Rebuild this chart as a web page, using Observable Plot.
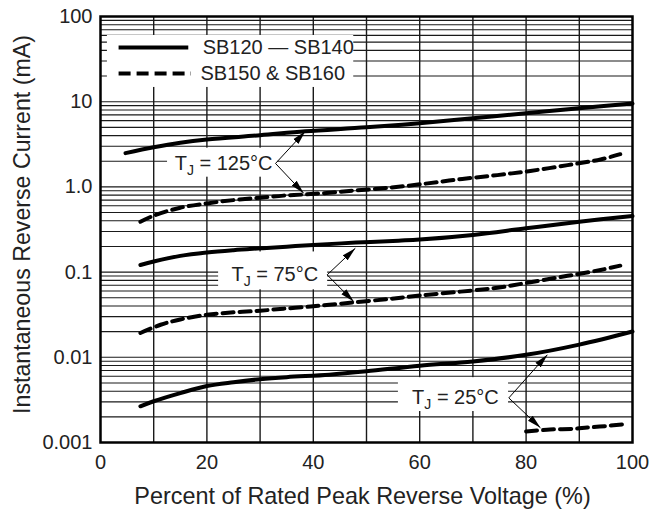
<!DOCTYPE html>
<html><head><meta charset="utf-8">
<script src="https://cdn.jsdelivr.net/npm/d3@7"></script>
<script src="https://cdn.jsdelivr.net/npm/@observablehq/plot@0.6"></script>
<style>body{margin:0;background:#fff;} #chart svg{display:block}</style>
</head><body><div id="chart"></div>
<script>
// ---- tick labels / grid ----
const xTicks = [0, 20, 40, 60, 80, 100];
const xGridLines = [10, 20, 30, 40, 50, 60, 70, 80, 90];
const yTicks = [0.001, 0.01, 0.1, 1, 10, 100];
const yTickLabels = ["0.001", "0.01", "0.1", "1.0", "10", "100"];
const deviceGroups = ["SB120 — SB140", "SB150 & SB160"];
const tjLabels = ["TJ = 125°C", "TJ = 75°C", "TJ = 25°C"];

// ---- series (percent of rated VR, current mA) ----
const pct_SB120_125 = [4.7, 10, 15, 20, 30, 38.5, 50, 60, 70, 80, 90, 100];
const mA_SB120_125  = [2.49, 2.92, 3.3, 3.6, 4.04, 4.5, 5.0, 5.6, 6.4, 7.3, 8.4, 9.5];
const pct_SB150_125 = [7.5, 10, 15, 20, 25, 30, 34.4, 38.5, 43, 47.5, 54.5, 61.5, 68, 74.6, 80.8, 87.8, 94, 97.7];
const mA_SB150_125  = [0.39, 0.46, 0.57, 0.64, 0.70, 0.745, 0.79, 0.817, 0.853, 0.905, 0.98, 1.10, 1.24, 1.375, 1.54, 1.80, 2.10, 2.42];
const pct_SB120_75  = [7.5, 10, 15, 20, 25, 30, 35, 40, 48, 56, 60, 70, 80, 90, 100];
const mA_SB120_75   = [0.121, 0.133, 0.155, 0.170, 0.181, 0.19, 0.199, 0.208, 0.222, 0.234, 0.241, 0.273, 0.327, 0.39, 0.455];
const pct_SB150_75  = [7.5, 11.3, 15, 20, 25, 30, 34.4, 39.5, 43, 47.5, 54, 60, 67.7, 74.6, 80.8, 87.8, 94, 97.7];
const mA_SB150_75   = [0.0193, 0.0241, 0.0278, 0.0316, 0.0337, 0.0352, 0.0372, 0.0394, 0.0413, 0.044, 0.0482, 0.053, 0.059, 0.0655, 0.0760, 0.0904, 0.106, 0.119];
const pct_SB120_25  = [7.5, 10, 15, 20, 25, 30, 35, 43, 50, 60, 70, 80, 90, 100];
const mA_SB120_25   = [0.00266, 0.00305, 0.0038, 0.0046, 0.0051, 0.00553, 0.00585, 0.00625, 0.00684, 0.00798, 0.00895, 0.0107, 0.0141, 0.0201];
const pct_SB150_25  = [80, 84.5, 89, 91.5, 95, 98.5];
const mA_SB150_25   = [0.00135, 0.00142, 0.00145, 0.0015, 0.00156, 0.00164];

// ---- annotation anchors (data units) ----
const annVertexPct = [32.9, 42.6, 76.75];
const annVertexMA  = [1.885, 0.0927, 0.003337];
const annSolidPct  = [38.5, 47.9, 84.0];
const annSolidMA   = [4.5, 0.1905, 0.01072];
const annDashPct   = [38.2, 47.6, 82.7];
const annDashMA    = [0.84, 0.0451, 0.001486];
const annBoxPct    = [[12.6, 33.3], [22.2, 42.7], [56.0, 76.7]];
const annBoxMA     = [[1.30, 2.85], [0.0619, 0.1724], [0.00231, 0.00577]];
const annDx        = [-3, -9, -10];

const curveDefs = [
  {dev: 0, pct: pct_SB120_125, mA: mA_SB120_125},
  {dev: 1, pct: pct_SB150_125, mA: mA_SB150_125},
  {dev: 0, pct: pct_SB120_75,  mA: mA_SB120_75},
  {dev: 1, pct: pct_SB150_75,  mA: mA_SB150_75},
  {dev: 0, pct: pct_SB120_25,  mA: mA_SB120_25},
  {dev: 1, pct: pct_SB150_25,  mA: mA_SB150_25}
];
const rows = curveDefs.flatMap((c, i) => c.pct.map((p, j) => ({curve: i, device: deviceGroups[c.dev], pct: p, mA: c.mA[j]})));
const solidRows = rows.filter(d => d.device === deviceGroups[0]);
const dashRows = rows.filter(d => d.device === deviceGroups[1]);

const ann = tjLabels.map((t, i) => ({
  label: t, vx: annVertexPct[i], vy: annVertexMA[i],
  sx: annSolidPct[i], sy: annSolidMA[i], dx2: annDashPct[i], dy2: annDashMA[i],
  bx1: annBoxPct[i][0], bx2: annBoxPct[i][1], by1: annBoxMA[i][0], by2: annBoxMA[i][1]
}));
const arrows = ann.flatMap(a => [{x1: a.vx, y1: a.vy, x2: a.sx, y2: a.sy}, {x1: a.vx, y1: a.vy, x2: a.dx2, y2: a.dy2}]);

// minor log grid
const yGrid = [];
for (let e = -3; e < 2; e++) for (let m = 1; m <= 9; m++) yGrid.push(m * Math.pow(10, e));

const legendSolid = [{label: deviceGroups[0], x1: 3.4, x2: 16.5, y: 43.3, tx: 19.2}];
const legendDash  = [{label: deviceGroups[1], x1: 3.4, x2: 17.0, y: 21.5, tx: 18.8}];

const plot = Plot.plot({
  width: 651, height: 510,
  marginLeft: 100, marginRight: 19, marginTop: 16, marginBottom: 68,
  style: {fontFamily: "'Liberation Sans', Arial, Helvetica, sans-serif", fontSize: "20px", color: "#222", background: "#fff"},
  x: {domain: [0, 100]},
  y: {type: "log", domain: [0.001, 100]},
  marks: [
    Plot.ruleY(yGrid, {stroke: "#1a1a1a", strokeWidth: 1.1}),
    Plot.ruleX(xGridLines, {stroke: "#1a1a1a", strokeWidth: 1.4}),
    // white boxes behind legend and labels
    Plot.rect([{x1: 1.3, x2: 47.6, y1: 14.7, y2: 59.9}], {x1: "x1", x2: "x2", y1: "y1", y2: "y2", fill: "white"}),
    Plot.rect(ann, {x1: "bx1", x2: "bx2", y1: "by1", y2: "by2", fill: "white"}),
    Plot.line(solidRows, {x: "pct", y: "mA", z: "curve", stroke: "black", strokeWidth: 4, curve: "catmull-rom"}),
    Plot.line(dashRows, {x: "pct", y: "mA", z: "curve", stroke: "black", strokeWidth: 4, strokeDasharray: "11,6", curve: "catmull-rom"}),
    Plot.link(arrows, {x1: "x1", y1: "y1", x2: "x2", y2: "y2", stroke: "black", strokeWidth: 1, markerEnd: "arrow"}),
    Plot.text(ann, {x: "vx", y: "vy", text: "label", textAnchor: "end", fontSize: 20, fill: "#222"}),
    // legend
    Plot.link(legendSolid, {x1: "x1", x2: "x2", y1: "y", y2: "y", stroke: "black", strokeWidth: 4}),
    Plot.link(legendDash, {x1: "x1", x2: "x2", y1: "y", y2: "y", stroke: "black", strokeWidth: 4, strokeDasharray: "12,6"}),
    Plot.text(legendSolid, {x: "tx", y: "y", text: "label", textAnchor: "start", fontSize: 20, fill: "#222"}),
    Plot.text(legendDash, {x: "tx", y: "y", text: "label", textAnchor: "start", fontSize: 20, fill: "#222"}),
    Plot.frame({stroke: "black", strokeWidth: 2.5}),
    Plot.axisX({ticks: xTicks, tickSize: 0, tickPadding: 12, label: null, fontSize: 20}),
    Plot.axisY({ticks: yTicks, tickFormat: (d) => yTickLabels[yTicks.indexOf(d)], tickSize: 0, tickPadding: 8, label: null, fontSize: 20}),
    Plot.text(["Percent of Rated Peak Reverse Voltage (%)"], {frameAnchor: "bottom", textAnchor: "middle", dx: -4, dy: 54, lineAnchor: "middle", fontSize: 23.4, fill: "#222"}),
    Plot.text(["Instantaneous Reverse Current (mA)"], {frameAnchor: "left", textAnchor: "middle", dx: -78, dy: -5, rotate: -90, lineAnchor: "middle", fontSize: 23.2, fill: "#222"})
  ]
});
document.getElementById("chart").appendChild(plot);

// apply per-label x offsets and subscript J
const NS = "http://www.w3.org/2000/svg";
plot.querySelectorAll("text").forEach(t => {
  const s = t.textContent;
  if (s.startsWith("TJ")) {
    const idx = tjLabels.indexOf(s);
    t.textContent = "";
    const a = document.createElementNS(NS, "tspan"); a.textContent = "T";
    const b = document.createElementNS(NS, "tspan"); b.textContent = "J"; b.setAttribute("font-size", "14"); b.setAttribute("dy", "5");
    const c = document.createElementNS(NS, "tspan"); c.textContent = " = " + s.slice(5); c.setAttribute("dy", "-5");
    t.append(a, b, c);
    const tr = t.getAttribute("transform") || "";
    t.setAttribute("transform", `translate(${annDx[idx]},0) ` + tr);
  }
});
// filled arrowheads
plot.querySelectorAll("marker").forEach(m => {
  m.setAttribute("viewBox", "-10 -3 10 6");
  m.setAttribute("markerWidth", "14");
  m.setAttribute("markerHeight", "8.4");
  m.setAttribute("markerUnits", "userSpaceOnUse");
  m.setAttribute("fill", "black");
  m.setAttribute("stroke", "none");
  m.innerHTML = "";
  const p = document.createElementNS(NS, "path");
  p.setAttribute("d", "M-10,-2.5L0,0L-10,2.5Z");
  p.setAttribute("fill", "black");
  p.setAttribute("stroke", "none");
  m.appendChild(p);
});
</script></body></html>
